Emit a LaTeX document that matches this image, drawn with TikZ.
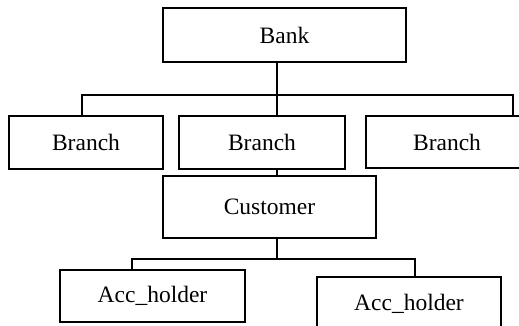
\documentclass[tikz,border=0pt]{standalone}
\usepackage{fontspec}
\setmainfont{Liberation Serif}
\begin{document}
\begin{tikzpicture}[x=1pt,y=-1pt,
  box/.style={draw=black,line width=1.3pt,rectangle,inner sep=0pt,
    font=\fontsize{23.5}{28}\selectfont},
  link/.style={draw=black,line width=1.3pt}]
\useasboundingbox (0,0) rectangle (519,326);

% boxes of the hierarchy
\node[box,minimum width=243pt,minimum height=54pt] (bank) at (284.5,35) {Bank};
\node[box,minimum width=154pt,minimum height=53pt] (br1) at (86,142.5) {Branch};
\node[box,minimum width=166pt,minimum height=53pt] (br2) at (262,142.5) {Branch};
\node[box,minimum width=162pt,minimum height=52pt] (br3) at (447,142) {Branch};
\node[box,minimum width=213pt,minimum height=62pt] (cust) at (269.5,207) {Customer};
\node[box,minimum width=185pt,minimum height=52pt] (acc1) at (152.5,296) {Acc\_holder};
\node[box,minimum width=184pt,minimum height=53pt] (acc2) at (409,303.5) {Acc\_holder};

% x positions of the vertical connector legs
\coordinate (xt) at (277,0);
\coordinate (xl) at (82,0);
\coordinate (xr) at (513,0);
\coordinate (xa) at (132,0);
\coordinate (xb) at (415,0);
% junction points of the horizontal bars
\coordinate (j1) at (277,95);
\coordinate (j2) at (277,259);

% Bank to branches
\draw[link] (bank.south -| xt) -- (br2.north -| xt);
\draw[link] (br1.north -| xl) |- (j1) -| (br3.north -| xr);

% branch to customer
\draw[link] (br2.south -| xt) -- (cust.north -| xt);

% customer to account holders
\draw[link] (cust.south -| xt) -- (j2);
\draw[link] (acc1.north -| xa) |- (j2) -| (acc2.north -| xb);
\end{tikzpicture}
\end{document}
